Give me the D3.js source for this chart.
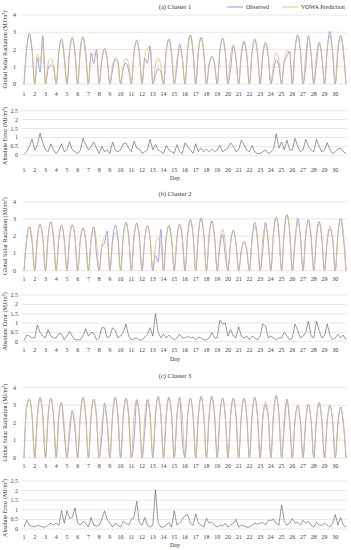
<!DOCTYPE html>
<html>
<head>
<meta charset="utf-8">
<script src="https://cdn.jsdelivr.net/npm/d3@7"></script>
<style>
  body { margin: 0; background: #fff; }
  svg { display: block; font-family: "Liberation Serif", "DejaVu Serif", serif; }
</style>
</head>
<body>
<svg width="351" height="550"></svg>
<script>
// days on the category axis
var days = d3.range(1, 31);
var radTicks = [0, 1, 2, 3, 4];
var errTicks = [0, 0.5, 1, 1.5, 2, 2.5];

// each day: radiation at quarter, middle and three-quarter of daylight (MJ/m2)
var obs1 = [[2.1,2.95,2.0],[1.5,0.7,2.8],[0.9,1.1,1.0],[1.9,2.6,1.5],[1.9,2.7,1.8],[2.0,2.7,1.8],[1.8,1.2,2.0],[1.4,2.05,1.4],[0.8,1.5,1.3],[0.9,1.2,0.8],
            [1.8,2.5,1.8],[1.5,1.2,2.2],[0.5,0.9,0.7],[1.9,2.6,1.7],[1.0,2.3,1.5],[2.0,2.85,1.9],[1.9,2.7,1.8],[1.1,1.6,1.2],[1.9,2.65,1.8],[0.9,2.2,1.5],
            [1.8,2.5,1.6],[1.8,2.6,1.8],[1.7,2.4,1.6],[0.7,1.4,1.0],[1.3,1.6,1.9],[2.0,2.85,1.9],[1.0,2.8,1.7],[1.2,2.4,1.6],[2.0,3.05,1.8],[2.0,2.8,1.9]];
var pred1 = [[2.0,2.8,1.9],[1.7,1.3,2.3],[1.2,1.5,1.1],[1.8,2.6,1.7],[1.9,2.65,1.9],[2.0,2.75,1.6],[1.6,1.7,1.8],[1.4,2.0,1.5],[1.1,1.4,1.2],[1.0,1.5,1.2],
             [1.8,2.55,1.8],[1.6,2.1,2.2],[1.1,1.5,1.1],[1.8,2.6,1.8],[1.4,2.0,1.5],[2.0,2.8,1.9],[1.9,2.7,1.9],[1.2,1.6,1.1],[1.9,2.65,1.9],[1.6,2.3,1.4],
             [1.6,2.4,1.8],[1.8,2.6,1.8],[1.7,2.4,1.7],[1.2,1.8,1.4],[1.4,1.9,1.8],[2.0,2.8,2.0],[1.8,2.65,1.8],[1.7,2.4,1.6],[2.0,2.8,1.9],[1.9,2.75,2.0]];
var obs2 = [[1.8,2.55,1.7],[1.9,2.7,1.9],[2.0,2.85,1.9],[1.9,2.65,1.8],[1.9,2.65,1.9],[1.8,2.45,1.8],[1.8,2.5,1.0],[1.4,1.6,2.3],[1.8,2.65,1.9],[2.0,2.8,2.0],
            [1.95,2.75,1.95],[1.85,2.6,1.85],[0.9,0.5,2.4],[1.9,2.6,1.8],[1.9,2.7,1.9],[2.1,2.95,2.1],[2.15,3.05,2.1],[2.05,2.9,2.0],[1.4,2.1,0.9],[1.6,2.35,1.6],
            [1.1,1.7,1.2],[1.9,2.8,1.9],[1.2,2.8,1.6],[2.2,3.1,2.2],[2.3,3.25,2.3],[1.6,3.05,2.0],[2.1,2.95,1.8],[2.0,2.85,1.8],[1.7,2.4,1.9],[2.1,3.0,2.0]];
var pred2 = [[1.8,2.55,1.8],[1.9,2.7,1.9],[2.0,2.8,2.0],[1.9,2.65,1.8],[1.9,2.65,1.9],[1.8,2.5,1.7],[1.8,2.55,1.7],[1.5,1.9,1.8],[1.6,2.2,1.8],[2.0,2.8,2.0],
             [1.95,2.75,1.95],[1.85,2.6,1.85],[1.5,1.9,1.5],[1.9,2.65,1.8],[1.9,2.7,1.9],[2.1,2.95,2.1],[2.15,3.05,2.1],[2.05,2.9,2.0],[1.7,2.4,1.7],[1.65,2.3,1.6],
             [1.2,1.65,1.2],[1.8,2.55,1.8],[1.9,2.6,1.9],[2.2,3.1,2.2],[2.3,3.25,2.3],[1.9,2.75,2.0],[2.1,2.95,2.1],[2.0,2.8,2.0],[1.8,2.6,1.8],[2.1,3.05,2.1]];
var obs3 = [[2.9,3.35,2.4],[2.4,3.45,2.4],[2.4,3.4,2.4],[2.4,3.15,1.4],[1.4,2.7,1.6],[2.4,3.45,2.4],[2.35,3.35,2.35],[1.2,3.1,2.0],[2.4,3.45,2.4],[2.4,3.4,2.4],
            [1.0,3.3,2.4],[1.5,3.3,2.4],[2.45,3.5,2.45],[2.4,3.45,2.4],[2.4,3.45,1.0],[2.4,3.4,2.4],[2.45,3.5,2.45],[2.45,3.5,2.45],[2.4,3.4,2.4],[2.4,3.4,2.4],
            [2.4,3.4,2.4],[2.4,3.45,2.4],[2.3,3.0,2.4],[2.5,3.55,2.5],[1.8,3.35,2.0],[2.1,3.0,2.1],[2.1,3.05,2.1],[2.2,3.15,2.1],[2.1,3.0,2.1],[1.9,2.9,2.0]];
var pred3 = [[2.9,3.3,2.4],[2.4,3.45,2.4],[2.4,3.4,2.4],[2.4,3.1,1.9],[1.9,2.5,2.0],[2.4,3.45,2.4],[2.35,3.35,2.35],[1.9,2.7,2.0],[2.4,3.45,2.4],[2.4,3.4,2.4],
             [2.4,3.35,2.4],[2.3,3.35,2.4],[2.45,3.5,2.45],[2.4,3.45,2.4],[2.4,3.45,2.4],[2.4,3.4,2.4],[2.45,3.5,2.45],[2.45,3.5,2.45],[2.4,3.4,2.4],[2.4,3.4,2.4],
             [2.4,3.4,2.4],[2.4,3.45,2.4],[2.3,3.2,2.3],[2.5,3.55,2.5],[2.3,3.3,2.2],[2.1,3.0,2.1],[2.1,3.05,2.1],[2.2,3.1,2.1],[2.1,3.0,2.1],[2.0,2.9,2.0]];

// each day: absolute error at start, quarter, middle, three-quarter of the day
var err1 = [[0.05,0.2,0.5,0.9],[0.3,0.6,1.25,0.7],[0.3,0.2,0.65,0.3],[0.1,0.3,0.65,0.2],[0.3,0.75,0.3,0.2],[0.1,0.3,0.95,0.6],[0.3,0.5,0.75,0.4],[0.1,0.5,0.2,0.3],[0.1,0.75,0.3,0.2],[0.3,0.65,0.7,0.4],
            [0.2,0.8,0.4,0.35],[0.1,0.2,0.3,0.9],[0.3,0.6,0.3,0.2],[0.1,0.55,0.3,0.2],[0.1,0.6,0.2,0.1],[0.7,0.5,0.3,0.1],[0.65,0.2,0.4,0.2],[0.35,0.2,0.35,0.2],[0.3,0.55,0.2,0.3],[0.4,0.7,0.5,0.2],
            [0.3,0.85,0.6,0.3],[0.2,0.55,0.2,0.1],[0.1,0.2,0.3,0.1],[0.2,0.35,1.2,0.4],[0.75,0.3,0.85,0.3],[0.3,0.95,0.5,0.2],[0.3,0.9,0.5,0.3],[0.2,0.9,0.5,0.2],[0.3,0.7,0.3,0.1],[0.2,0.35,0.4,0.2]];
var err2 = [[0.05,0.35,0.3,0.2],[0.2,0.9,0.5,0.3],[0.2,0.65,0.3,0.2],[0.2,0.45,0.4,0.1],[0.3,0.55,0.3,0.1],[0.1,0.1,0.3,0.7],[0.3,0.5,0.45,0.1],[0.2,0.75,0.75,0.2],[0.3,0.75,0.6,0.2],[0.3,0.5,0.95,0.3],
            [0.1,0.15,0.2,0.1],[0.1,0.25,0.4,0.75],[0.3,1.5,0.5,0.2],[0.4,0.2,0.35,0.2],[0.1,0.2,0.4,0.2],[0.2,0.3,0.2,0.25],[0.1,0.25,0.2,0.1],[0.1,0.2,0.5,0.2],[0.2,1.15,0.95,1.0],[0.3,0.65,0.3,0.2],
            [0.8,0.3,0.2,0.3],[0.1,0.3,0.2,0.1],[0.3,0.95,0.85,0.2],[0.3,0.2,0.1,0.2],[0.2,0.5,0.3,0.1],[0.2,0.95,0.6,0.2],[0.3,0.5,1.1,0.3],[0.2,1.1,0.6,0.2],[0.3,0.95,0.35,0.1],[0.2,0.4,0.2,0.35]];
var err3 = [[0.1,0.45,0.2,0.15],[0.1,0.2,0.15,0.1],[0.1,0.2,0.3,0.2],[0.3,0.2,0.95,0.3],[0.95,0.55,0.6,1.1],[0.3,0.2,0.4,0.3],[0.1,0.6,0.2,0.15],[0.2,0.5,0.95,0.5],[0.3,0.1,0.3,0.2],[0.1,0.4,0.3,0.2],
            [0.5,0.6,1.45,0.3],[0.2,0.6,0.2,0.1],[0.2,2.05,0.3,0.1],[0.1,0.2,0.35,0.1],[0.95,0.2,0.3,0.5],[0.7,0.75,0.3,0.2],[0.8,0.3,0.2,0.1],[0.55,0.3,0.35,0.2],[0.1,0.2,0.15,0.3],[0.1,0.2,0.3,0.5],
            [0.1,0.2,0.15,0.1],[0.1,0.2,0.3,0.25],[0.3,0.35,0.2,0.45],[0.45,0.5,0.3,0.2],[1.25,0.4,0.2,0.3],[0.55,0.3,0.35,0.2],[0.45,0.3,0.4,0.2],[0.1,0.35,0.2,0.2],[0.3,0.2,0.1,0.3],[0.75,0.2,0.6,0.2]];

var titles = ["(a) Cluster 1", "(b) Cluster 2", "(c) Cluster 3"];

var colObs = "#8b8be0", colPred = "#d8bd70", colErr = "#555", colGrid = "#dcdcdc";

var svg = d3.select("svg");
var x = d3.scaleLinear().domain([1, 31]).range([24, 346]);

// nights are zero, the three daylight values sit between
function dayPoints(arr) {
    var pts = [];
    arr.forEach(function (v, i) {
        var d = i + 1;
        pts.push([d, 0], [d + 0.25, v[0]], [d + 0.5, v[1]], [d + 0.75, v[2]]);
    });
    pts.push([31, 0]);
    return pts;
}
function errPoints(arr) {
    var pts = [];
    arr.forEach(function (v, i) {
        v.forEach(function (e, j) { pts.push([i + 1 + j / 4, e]); });
    });
    pts.push([31, 0.1]);
    return pts;
}

function grid(g, y, ticks, fmt, tickX) {
    g.selectAll(".gl").data(ticks).enter().append("line")
        .attr("x1", 22).attr("x2", 347)
        .attr("y1", function (d) { return y(d); }).attr("y2", function (d) { return y(d); })
        .attr("stroke", colGrid).attr("stroke-width", 0.7);
    g.selectAll(".tl").data(ticks).enter().append("text")
        .attr("x", tickX).attr("y", function (d) { return y(d) + 2; })
        .attr("text-anchor", "end").attr("font-size", 6).attr("fill", "#404040")
        .text(fmt);
}
function dayLabels(g, yPos) {
    g.selectAll(".dl").data(days).enter().append("text")
        .attr("x", function (d) { return x(d); }).attr("y", yPos)
        .attr("text-anchor", "middle").attr("font-size", 6).attr("fill", "#404040")
        .text(function (d) { return d; });
}
function yTitle(g, txt, cy) {
    g.append("text").attr("transform", "translate(7," + cy + ") rotate(-90)")
        .attr("text-anchor", "middle").attr("font-size", 6.1).attr("fill", "#333")
        .text(txt);
}

var panels = [
    { obs: obs1, pred: pred1, err: err1, title: 9, r0: 84, r4: 15, lab: 96, e0: 155.3, e25: 110.7, elab: 172, day: 179.5 },
    { obs: obs2, pred: pred2, err: err2, title: 196, r0: 270.7, r4: 201.7, lab: 281, e0: 341.7, e25: 295, elab: 352, day: 361 },
    { obs: obs3, pred: pred3, err: err3, title: 378, r0: 457.7, r4: 387.7, lab: 467.5, e0: 529, e25: 481, elab: 538.5, day: 547 }
];

panels.forEach(function (p, k) {
    var g = svg.append("g");
    var y = d3.scaleLinear().domain([0, 4]).range([p.r0, p.r4]);
    var ye = d3.scaleLinear().domain([0, 2.5]).range([p.e0, p.e25]);

    g.append("text").attr("x", 175).attr("y", p.title)
        .attr("text-anchor", "middle").attr("font-size", 6.5).attr("fill", "#333")
        .text(titles[k]);

    grid(g.append("g"), y, radTicks, function (d) { return d; }, 16);
    dayLabels(g.append("g"), p.lab);
    yTitle(g, "Global Solar Radiation (MJ/m²)", (p.r0 + p.r4) / 2);

    var line = d3.line().x(function (d) { return x(d[0]); }).y(function (d) { return y(d[1]); })
        .curve(d3.curveMonotoneX);
    g.append("path").attr("d", line(dayPoints(p.obs)))
        .attr("fill", "none").attr("stroke", colObs).attr("stroke-width", 0.8);
    g.append("path").attr("d", line(dayPoints(p.pred)))
        .attr("fill", "none").attr("stroke", colPred).attr("stroke-width", 0.8);

    grid(g.append("g"), ye, errTicks, function (d) { return d; }, 18);
    dayLabels(g.append("g"), p.elab);
    yTitle(g, "Absolute Error (MJ/m²)", (p.e0 + p.e25) / 2 + 3);
    var eline = d3.line().x(function (d) { return x(d[0]); }).y(function (d) { return ye(d[1]); });
    g.append("path").attr("d", eline(errPoints(p.err)))
        .attr("fill", "none").attr("stroke", colErr).attr("stroke-width", 0.6);

    g.append("text").attr("x", 175).attr("y", p.day)
        .attr("text-anchor", "middle").attr("font-size", 6).attr("fill", "#333")
        .text("Day");
});

// legend, top right of the first panel
var legend = [["Observed", colObs, 227], ["VOWA Prediction", colPred, 282]];
var lg = svg.append("g");
lg.selectAll("line").data(legend).enter().append("line")
    .attr("x1", function (d) { return d[2]; }).attr("x2", function (d) { return d[2] + 16; })
    .attr("y1", 7).attr("y2", 7)
    .attr("stroke", function (d) { return d[1]; }).attr("stroke-width", 0.9);
lg.selectAll("text").data(legend).enter().append("text")
    .attr("x", function (d) { return d[2] + 19; }).attr("y", 9)
    .attr("font-size", 6).attr("fill", "#333")
    .text(function (d) { return d[0]; });
</script>
</body>
</html>
